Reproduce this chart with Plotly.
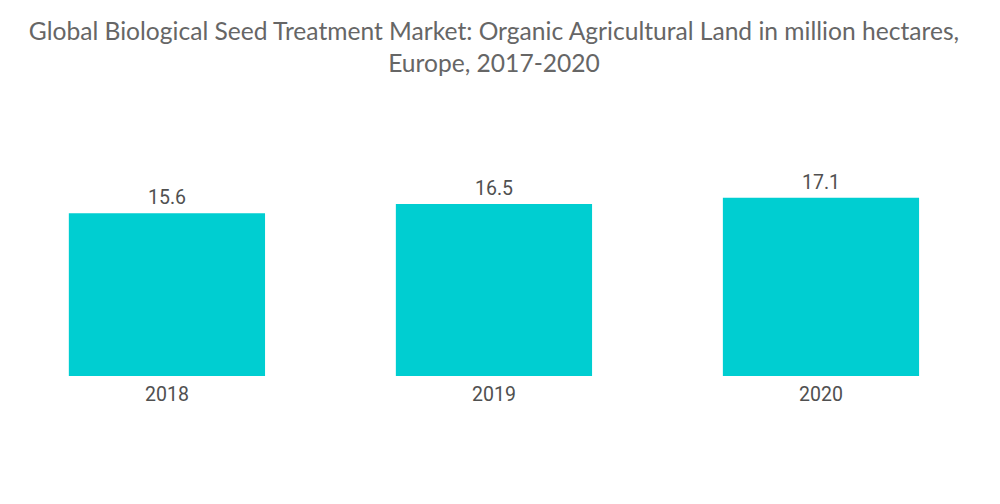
import plotly.graph_objects as go

years = ["2018", "2019", "2020"]
values = [15.6, 16.5, 17.1]
labels = ["15.6", "16.5", "17.1"]

pos = list(range(len(years)))

fig = go.Figure(go.Bar(
    x=pos, y=values, width=0.6,
    marker=dict(color="#00CED1", line=dict(width=0)),
    hoverinfo="skip",
))

for p, v, lab in zip(pos, values, labels):
    fig.add_annotation(x=p, y=v, text=lab, showarrow=False,
                       yanchor="bottom", yshift=2,
                       font=dict(family="Roboto", size=19.5, color="#505050"))

fig.update_layout(
    width=1000, height=504,
    paper_bgcolor="white", plot_bgcolor="white",
    margin=dict(l=0, r=0, t=174, b=136),
    showlegend=False,
    title=dict(
        text="Global Biological Seed Treatment Market: Organic Agricultural Land in million hectares,<br>Europe, 2017-2020",
        x=0.486, xanchor="center", xref="container", yref="container", y=0.937, yanchor="middle",
        font=dict(family="Lato", size=24.6, color="#666666"),
    ),
    xaxis=dict(showgrid=False, showline=False, ticks="", zeroline=False,
               range=[-0.486, 2.497], domain=[0, 0.9755],
               tickmode="array", tickvals=pos, ticktext=years,
               ticklabelstandoff=4,
               tickfont=dict(family="Roboto", size=19.5, color="#505050")),
    yaxis=dict(visible=False, range=[0, 18.6]),
)

fig.write_html("out.html")
